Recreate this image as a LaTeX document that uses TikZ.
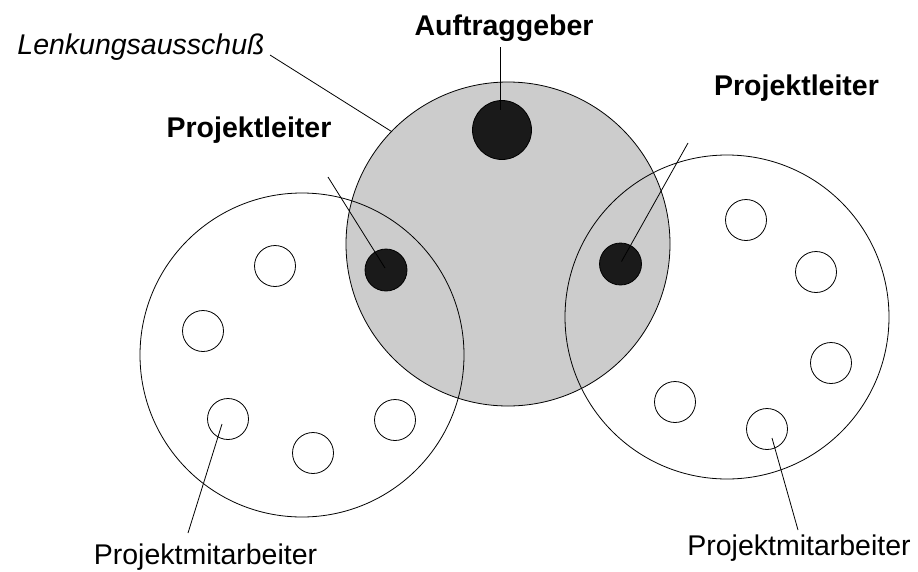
\documentclass[tikz,border=0pt]{standalone}
\usepackage{fontspec}
\setmainfont{Liberation Sans}
\definecolor{fillgray}{HTML}{CCCCCC}
\definecolor{dotblack}{HTML}{1A1A1A}
\begin{document}
\begin{tikzpicture}[x=1pt,y=-1pt,
  ring/.style={circle, draw=black, line width=0.8pt, minimum size=324pt, inner sep=0pt, outer sep=0pt},
  member/.style={circle, draw=black, fill=white, line width=0.8pt, minimum size=41pt, inner sep=0pt},
  leader/.style={circle, draw=black, fill=dotblack, line width=0.8pt, minimum size=42pt, inner sep=0pt},
  boss/.style={circle, draw=black, fill=dotblack, line width=0.8pt, minimum size=59pt, inner sep=0pt},
  lbl/.style={inner sep=0pt, anchor=base, font=\fontsize{28.5}{30}\selectfont},
  blbl/.style={lbl, font=\fontsize{28.5}{30}\selectfont\bfseries},
  ilbl/.style={lbl, font=\fontsize{28.5}{30}\selectfont\itshape},
  conn/.style={draw=black, line width=0.8pt}]
\useasboundingbox (0,0) rectangle (918,571);
% big circles
\node[ring, fill=fillgray] (steer) at (508,244) {};
\node[ring] (teamL) at (302,355) {};
\node[ring] (teamR) at (727,317) {};
% members left
\node[member] (mL1) at (275,266) {};
\node[member] (mL2) at (203,331) {};
\node[member] (mL3) at (228,419) {};
\node[member] (mL4) at (313,453) {};
\node[member] (mL5) at (395,420) {};
% members right
\node[member] (mR1) at (746,220) {};
\node[member] (mR2) at (816,272) {};
\node[member] (mR3) at (831,363) {};
\node[member] (mR4) at (675,402) {};
\node[member] (mR5) at (767,429) {};
% dots
\node[boss] (client) at (502,130) {};
\node[leader] (plL) at (386,270) {};
\node[leader] (plR) at (620.5,264) {};
% labels
\node[ilbl] (tLenk) at (141,54) {Lenkungsausschuß};
\node[blbl] (tClient) at (504,35) {Auftraggeber};
\node[blbl] (tPlL) at (249,137) {Projektleiter};
\node[blbl] (tPlR) at (796.5,95) {Projektleiter};
\node[lbl] (tPmL) at (205.5,564.5) {Projektmitarbeiter};
\node[lbl] (tPmR) at (799,555) {Projektmitarbeiter};
% connector ends
\coordinate (cLenk) at (270,55);
\coordinate (cClientA) at (500,47);
\coordinate (cClientB) at (500,110);
\coordinate (cPlLA) at (328,177);
\coordinate (cPlLB) at (385,268);
\coordinate (cPlRA) at (688,143);
\coordinate (cPlRB) at (621.5,261.5);
\coordinate (cPmLA) at (222,424);
\coordinate (cPmLB) at (188,533);
\coordinate (cPmRA) at (772,438);
\coordinate (cPmRB) at (798,530);
% connectors
\draw[conn] (cLenk) -- (steer.136.5);
\draw[conn] (cClientA) -- (cClientB);
\draw[conn] (cPlLA) -- (cPlLB);
\draw[conn] (cPlRA) -- (cPlRB);
\draw[conn] (cPmLA) -- (cPmLB);
\draw[conn] (cPmRA) -- (cPmRB);
\end{tikzpicture}
\end{document}
